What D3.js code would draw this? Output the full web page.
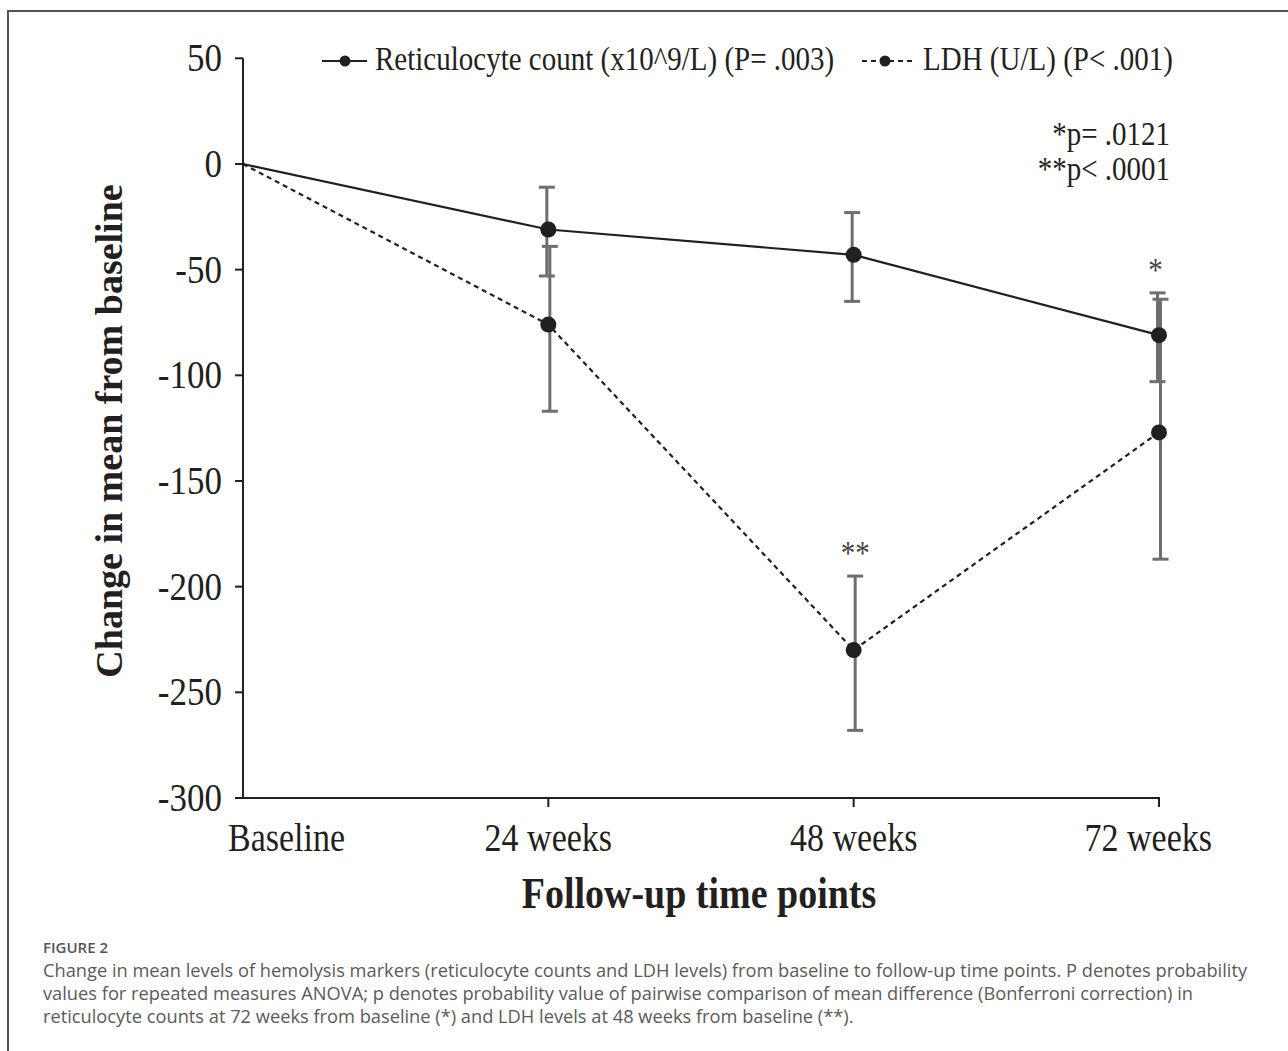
<!DOCTYPE html>
<html>
<head>
<meta charset="utf-8">
<script src="https://cdn.jsdelivr.net/npm/d3@7"></script>
<style>
  html, body { margin: 0; padding: 0; background: #fff; }
  svg { display: block; }
</style>
</head>
<body>
<div id="chart"></div>
<script>
const categories = ["Baseline", "24 weeks", "48 weeks", "72 weeks"];
const yTicks = [50, 0, -50, -100, -150, -200, -250, -300];

// reticulocyte count change (x10^9/L)
const reticMean = [0, -31, -43, -81];
const reticHigh = [null, -11, -23, -61];
const reticLow = [null, -53, -65, -103];
const reticStars = [null, null, null, "*"];

// LDH change (U/L)
const ldhMean = [0, -76, -230, -127];
const ldhHigh = [null, -39, -195, -64];
const ldhLow = [null, -117, -268, -187];
const ldhStars = [null, null, "**", null];

const legendLabels = ["Reticulocyte count (x10^9/L) (P= .003)", "LDH (U/L) (P< .001)"];
const pNotes = ["*p= .0121", "**p< .0001"];
const captionTitle = "FIGURE 2";
const captionLines = [
  "Change in mean levels of hemolysis markers (reticulocyte counts and LDH levels) from baseline to follow-up time points. P denotes probability",
  "values for repeated measures ANOVA; p denotes probability value of pairwise comparison of mean difference (Bonferroni correction) in",
  "reticulocyte counts at 72 weeks from baseline (*) and LDH levels at 48 weeks from baseline (**)."
];

const W = 1288, H = 1051;
const SERIF = "'Liberation Serif', 'Times New Roman', serif";
const STRETCH = 1.15;   // the original figure is a bit taller than wide

const svg = d3.select("#chart").append("svg")
  .attr("width", W).attr("height", H);

// frame (left and top edges)
svg.append("path")
  .attr("d", `M8,${H} V11 H${W}`)
  .attr("fill", "none").attr("stroke", "#555").attr("stroke-width", 2);

const x = d3.scalePoint().domain(categories).range([243, 1159]);
const y = d3.scaleLinear().domain([-300, 50]).range([798, 58.3]);

// text with a slight vertical stretch
function sText(parent, tx, ty, str, size, anchor, weight) {
  return parent.append("text")
    .attr("transform", `translate(${tx},${ty}) scale(1,${STRETCH})`)
    .attr("text-anchor", anchor || "start")
    .style("font-family", SERIF)
    .style("font-size", size + "px")
    .style("font-weight", weight || "normal")
    .style("fill", "#231f20")
    .text(str);
}

// axes
const yAxis = svg.append("g");
yAxis.append("line")
  .attr("x1", x(categories[0])).attr("x2", x(categories[0]))
  .attr("y1", y(50)).attr("y2", y(-300))
  .attr("stroke", "#231f20").attr("stroke-width", 2);
yTicks.forEach(t => {
  yAxis.append("line")
    .attr("x1", x(categories[0]) - 8).attr("x2", x(categories[0]))
    .attr("y1", y(t)).attr("y2", y(t))
    .attr("stroke", "#231f20").attr("stroke-width", 2);
  sText(yAxis, 222, y(t) + 13, String(t), 35, "end");
});

const xAxis = svg.append("g");
xAxis.append("line")
  .attr("x1", x(categories[0])).attr("x2", x(categories[3]) + 1)
  .attr("y1", y(-300)).attr("y2", y(-300))
  .attr("stroke", "#231f20").attr("stroke-width", 2);
categories.forEach((c, i) => {
  if (i > 0) {
    xAxis.append("line")
      .attr("x1", x(c)).attr("x2", x(c))
      .attr("y1", y(-300)).attr("y2", y(-300) + 9)
      .attr("stroke", "#231f20").attr("stroke-width", 2);
  }
  const lab = sText(xAxis, x(c), 851, c, 34, "middle");
  // outer labels are kept inside the span 228..1212, as in the figure
  const w = lab.node().getComputedTextLength();
  const cx = Math.min(Math.max(x(c), 228 + w / 2), 1212 - w / 2);
  lab.attr("transform", `translate(${cx},851) scale(1,${STRETCH})`);
});

sText(svg, 699, 908, "Follow-up time points", 38, "middle", "bold");
svg.append("text")
  .attr("transform", "translate(122,431) rotate(-90)")
  .attr("text-anchor", "middle")
  .style("font-family", SERIF)
  .style("font-size", "38px")
  .style("font-weight", "bold")
  .style("fill", "#231f20")
  .text("Change in mean from baseline");

// error bars
const series = [
  { mean: reticMean, lo: reticLow, hi: reticHigh, stars: reticStars, dash: null, off: -1.5 },
  { mean: ldhMean, lo: ldhLow, hi: ldhHigh, stars: ldhStars, dash: "5,4", off: 1.5 }
];

const bars = svg.append("g");
series.forEach(s => {
  categories.forEach((c, i) => {
    if (s.lo[i] == null) return;
    const cx = x(c) + s.off;
    bars.append("line")
      .attr("x1", cx).attr("x2", cx)
      .attr("y1", y(s.hi[i])).attr("y2", y(s.lo[i]))
      .attr("stroke", "#6d6e71").attr("stroke-width", 3);
    [s.hi[i], s.lo[i]].forEach(v => {
      bars.append("line")
        .attr("x1", cx - 8).attr("x2", cx + 8)
        .attr("y1", y(v)).attr("y2", y(v))
        .attr("stroke", "#6d6e71").attr("stroke-width", 3);
    });
  });
});

// lines and markers
const line = d3.line().x((d, i) => x(categories[i])).y(d => y(d));
series.forEach(s => {
  svg.append("path")
    .datum(s.mean)
    .attr("d", line)
    .attr("fill", "none")
    .attr("stroke", "#231f20")
    .attr("stroke-width", 2.2)
    .attr("stroke-dasharray", s.dash);
  svg.selectAll(null)
    .data(s.mean.slice(1))
    .join("circle")
    .attr("cx", (d, i) => x(categories[i + 1]))
    .attr("cy", d => y(d))
    .attr("r", 8)
    .attr("fill", "#231f20");
});

// significance stars above the upper whisker of their series
series.forEach(s => {
  s.stars.forEach((m, i) => {
    if (!m) return;
    sText(svg, x(categories[i]) + s.off - (m.length === 1 ? 2 : 0), y(s.hi[i]) - 12, m, 29, "middle")
      .style("fill", "#444");
  });
});

// legend
const leg = svg.append("g");
leg.append("line").attr("x1", 322).attr("x2", 367).attr("y1", 61).attr("y2", 61)
  .attr("stroke", "#231f20").attr("stroke-width", 2.2);
leg.append("circle").attr("cx", 345).attr("cy", 61).attr("r", 5.5).attr("fill", "#231f20");
sText(leg, 375, 70, legendLabels[0], 29, "start");
leg.append("line").attr("x1", 862).attr("x2", 916).attr("y1", 61).attr("y2", 61)
  .attr("stroke", "#231f20").attr("stroke-width", 2.2).attr("stroke-dasharray", "5,4");
leg.append("circle").attr("cx", 885).attr("cy", 61).attr("r", 5.5).attr("fill", "#231f20");
sText(leg, 923, 70, legendLabels[1], 29, "start");

pNotes.forEach((p, i) => sText(svg, 1170, 145 + i * 35, p, 29, "end"));

// caption
svg.append("text")
  .attr("x", 43).attr("y", 953)
  .style("font-family", "'Open Sans', sans-serif")
  .style("font-size", "15px")
  .style("font-weight", "600")
  .style("fill", "#555")
  .text(captionTitle);

const cap = svg.append("g")
  .style("font-family", "'Open Sans', sans-serif")
  .style("fill", "#5a5a5a");
const capTexts = captionLines.map((t, i) =>
  cap.append("text").attr("x", 43).attr("y", 977 + i * 23).style("font-size", "18px").text(t));
// size the caption so its first line fills the column as in the figure
const k = 1205 / capTexts[0].node().getComputedTextLength();
capTexts.forEach(t => t.style("font-size", (18 * k) + "px"));
</script>
</body>
</html>
